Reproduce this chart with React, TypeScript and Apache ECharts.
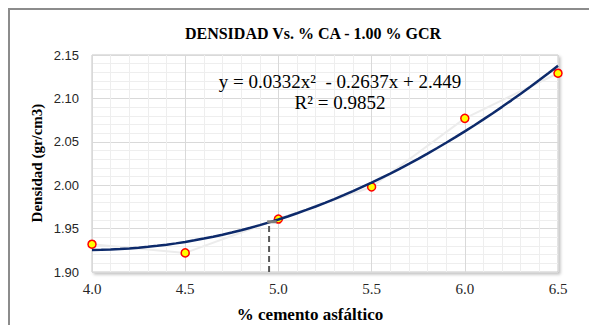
import React, { useEffect, useRef } from "react";
import * as echarts from "echarts";

const pctCA = [4.0, 4.5, 5.0, 5.5, 6.0, 6.5];
const densidad = [1.932, 1.922, 1.961, 1.998, 2.077, 2.129];
const trendCoef = [0.0332, -0.2637, 2.449];
const optimoX = [4.95];
const optimoY = [1.958];
const titleText = "DENSIDAD Vs. % CA - 1.00 % GCR";
const eqText = "y = 0.0332x\u00B2  - 0.2637x + 2.449";
const r2Text = "R\u00B2 = 0.9852";
const xName = "% cemento asf\u00E1ltico";
const yName = "Densidad (gr/cm3)";

export default function App() {
  const ref = useRef<HTMLDivElement>(null);
  useEffect(() => {
    if (!ref.current) return;
    const chart = echarts.init(ref.current, null, { renderer: "svg" });
    const trend: number[][] = [];
    for (let i = 0; i <= 50; i++) {
      const x = pctCA[0] + ((pctCA[pctCA.length - 1] - pctCA[0]) * i) / 50;
      trend.push([x, trendCoef[0] * x * x + trendCoef[1] * x + trendCoef[2]]);
    }
    const serif = "'Liberation Serif', 'Times New Roman', serif";
    chart.setOption({
      animation: false,
      backgroundColor: "#ffffff",
      grid: {
        left: 92,
        top: 55,
        width: 466,
        height: 217,
        show: true,
        backgroundColor: "#ffffff",
        borderColor: "#c9c9c9",
        borderWidth: 1,
        shadowColor: "rgba(0,0,0,0.25)",
        shadowBlur: 3,
        shadowOffsetX: 2,
        shadowOffsetY: 2,
      },
      xAxis: {
        type: "value",
        min: 4,
        max: 6.5,
        interval: 0.5,
        axisLine: { show: false },
        axisTick: { show: false },
        axisLabel: {
          formatter: (v: number) => v.toFixed(1),
          fontFamily: serif,
          fontSize: 15,
          color: "#262626",
          margin: 9,
        },
        splitLine: { show: true, lineStyle: { color: "#d9d9d9", width: 1 } },
        minorTick: { show: false, splitNumber: 5 },
        minorSplitLine: { show: true, lineStyle: { color: "#eeeeee", width: 1 } },
      },
      yAxis: {
        type: "value",
        min: 1.9,
        max: 2.15,
        interval: 0.05,
        axisLine: { show: false },
        axisTick: { show: false },
        axisLabel: {
          formatter: (v: number) => v.toFixed(2),
          fontFamily: "'Liberation Sans', Arial, sans-serif",
          fontSize: 13,
          color: "#262626",
          margin: 13,
        },
        splitLine: { show: true, lineStyle: { color: "#d9d9d9", width: 1 } },
        minorTick: { show: false, splitNumber: 5 },
        minorSplitLine: { show: true, lineStyle: { color: "#eeeeee", width: 1 } },
      },
      series: [
        {
          type: "line",
          data: pctCA.map((x, i) => [x, densidad[i]]),
          lineStyle: { color: "#ececec", width: 2 },
          symbol: "circle",
          symbolSize: 8,
          itemStyle: { color: "#ffff00", borderColor: "#ff0000", borderWidth: 1.5 },
          z: 3,
        },
        {
          type: "line",
          data: trend,
          symbol: "none",
          lineStyle: { color: "#0d2a6b", width: 2.5 },
          z: 4,
        },
        {
          type: "line",
          data: [
            [optimoX[0], 1.9],
            [optimoX[0], optimoY[0]],
          ],
          symbol: "none",
          lineStyle: { color: "#595959", width: 2, type: [6, 4] },
          z: 5,
        },
        {
          type: "line",
          data: [
            [optimoX[0] - 0.01, optimoY[0]],
            [optimoX[0] + 0.04, optimoY[0]],
          ],
          symbol: "none",
          lineStyle: { color: "#7f7f7f", width: 3 },
          z: 5,
        },
      ],
      graphic: [
        {
          type: "rect",
          shape: { x: 9, y: 9, width: 640, height: 400 },
          style: { fill: "none", stroke: "#8c8c8c", lineWidth: 2 },
          silent: true,
        },
        {
          type: "text",
          x: 313,
          y: 33,
          style: {
            text: titleText,
            font: "bold 16px " + serif,
            fill: "#000000",
            textAlign: "center",
            textVerticalAlign: "middle",
          },
        },
        {
          type: "text",
          x: 340,
          y: 81,
          z: 10,
          style: {
            text: eqText,
            font: "19px " + serif,
            fill: "#000000",
            textAlign: "center",
            textVerticalAlign: "middle",
          },
        },
        {
          type: "text",
          x: 340,
          y: 102,
          z: 10,
          style: {
            text: r2Text,
            font: "19px " + serif,
            fill: "#000000",
            textAlign: "center",
            textVerticalAlign: "middle",
          },
        },
        {
          type: "text",
          x: 310,
          y: 314,
          style: {
            text: xName,
            font: "bold 17px " + serif,
            fill: "#000000",
            textAlign: "center",
            textVerticalAlign: "middle",
          },
        },
        {
          type: "text",
          x: 37,
          y: 163,
          rotation: Math.PI / 2,
          style: {
            text: yName,
            font: "bold 15px " + serif,
            fill: "#000000",
            textAlign: "center",
            textVerticalAlign: "middle",
          },
        },
      ],
    });
    return () => chart.dispose();
  }, []);
  return (
    <div
      ref={ref}
      style={{ position: "fixed", left: 0, top: 0, width: 589, height: 325 }}
    />
  );
}
